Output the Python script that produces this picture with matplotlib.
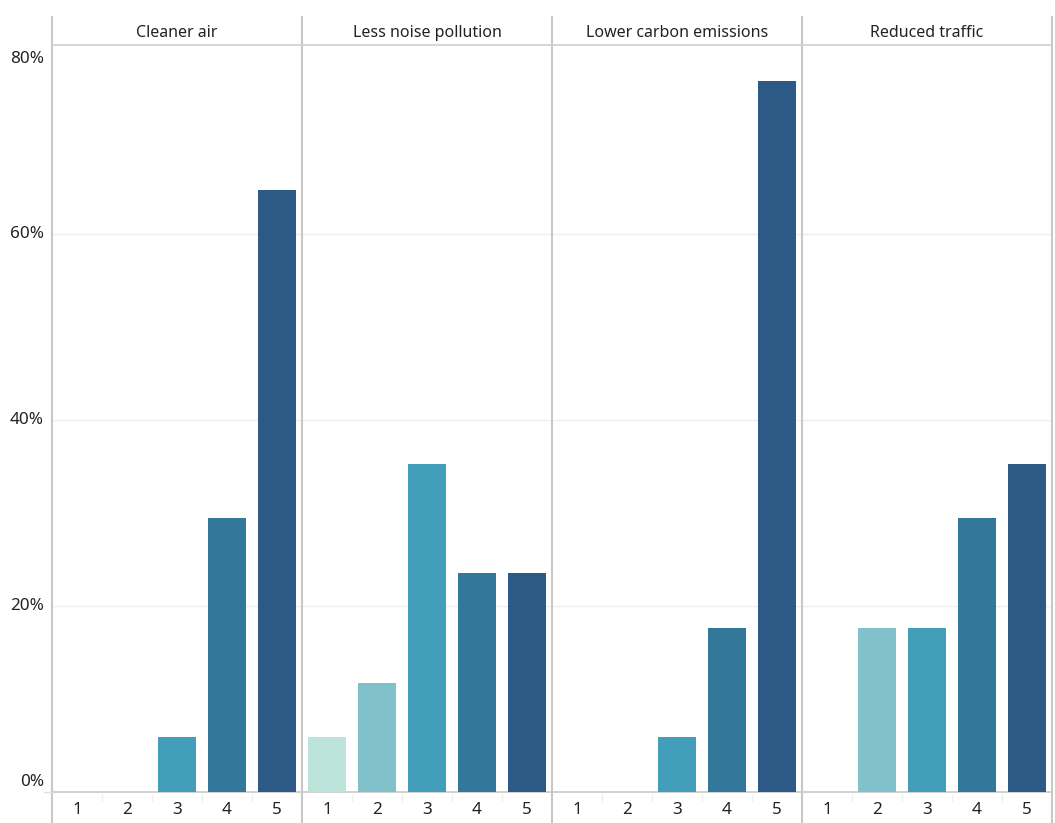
import matplotlib.pyplot as plt
from matplotlib.lines import Line2D

plt.rcParams['font.family'] = ['Noto Sans', 'DejaVu Sans']

# data (share of respondents per rating 1-5)
panels = ["Cleaner air", "Less noise pollution", "Lower carbon emissions", "Reduced traffic"]
ratings = ["1", "2", "3", "4", "5"]
cleaner_air = [0, 0, 5.88, 29.41, 64.71]
less_noise = [5.88, 11.76, 35.29, 23.53, 23.53]
lower_carbon = [0, 0, 5.88, 17.65, 76.47]
reduced_traffic = [0, 17.65, 17.65, 29.41, 35.29]
values = [cleaner_air, less_noise, lower_carbon, reduced_traffic]
colors = ["#bde4da", "#80c1ca", "#439fb9", "#33789b", "#2c5985"]
yticks = [0, 20, 40, 60, 80]

W, H = 1055, 823
fig = plt.figure(figsize=(W / 100, H / 100), dpi=100)

left0, pw = 52, 250
top, bottom = 45, 792
sep_color = "#c8c8c8"
fs = 11.5      # header text
fs_tick = 12.3  # axis numbers
txt = "#222222"

for i, name in enumerate(panels):
    x0 = left0 + pw * i
    ax = fig.add_axes([x0 / W, (H - bottom) / H, pw / W, (bottom - top) / H])
    ax.bar(range(5), values[i], width=0.76, color=colors, zorder=3)
    ax.set_xlim(-0.5, 4.5)
    ax.set_ylim(0, 80.3)
    ax.set_yticks([])
    for g in yticks[1:-1]:
        ax.axhline(g, color="#eeeeee", linewidth=1, zorder=0)
    ax.set_xticks(range(5))
    ax.set_xticklabels(ratings, fontsize=fs_tick, color=txt)
    ax.tick_params(axis="x", length=0, pad=7)
    for s in ["top", "right", "left"]:
        ax.spines[s].set_visible(False)
    ax.spines["bottom"].set_color("#c8c8c8")
    ax.spines["bottom"].set_linewidth(1.2)
    if i == 0:
        # y labels: end labels nudged inside the plot like the original
        for v in yticks:
            yy = v
            if v == yticks[0]:
                yy = v + 1.1
            elif v == yticks[-1]:
                yy = v - 1.2
            ax.text(-8 / pw, yy, f"{v}%", transform=ax.get_yaxis_transform(),
                    ha="right", va="center", fontsize=fs_tick, color=txt)
    # header label
    fig.text((x0 + pw / 2) / W, 1 - 33 / H, name, ha="center", va="center",
             fontsize=fs, color=txt)
    # small ticks between categories in the x label band
    for k in range(1, 5):
        xk = (x0 + 50 * k) / W
        fig.add_artist(Line2D([xk, xk], [1 - 795 / H, 1 - 801 / H],
                              color="#eeeeee", linewidth=1))

# panel separators and header line
for i in range(5):
    xs = (left0 + pw * i) / W
    fig.add_artist(Line2D([xs, xs], [1 - 17 / H, 1 - 822 / H],
                          color=sep_color, linewidth=1.5))
fig.add_artist(Line2D([left0 / W, (left0 + 4 * pw) / W], [1 - 45 / H, 1 - 45 / H],
                      color="#d0d0d0", linewidth=1.2))
fig.add_artist(Line2D([44 / W, left0 / W], [1 - 792 / H, 1 - 792 / H],
                      color="#e0e0e0", linewidth=1))

fig.savefig("out.png", dpi=100)
